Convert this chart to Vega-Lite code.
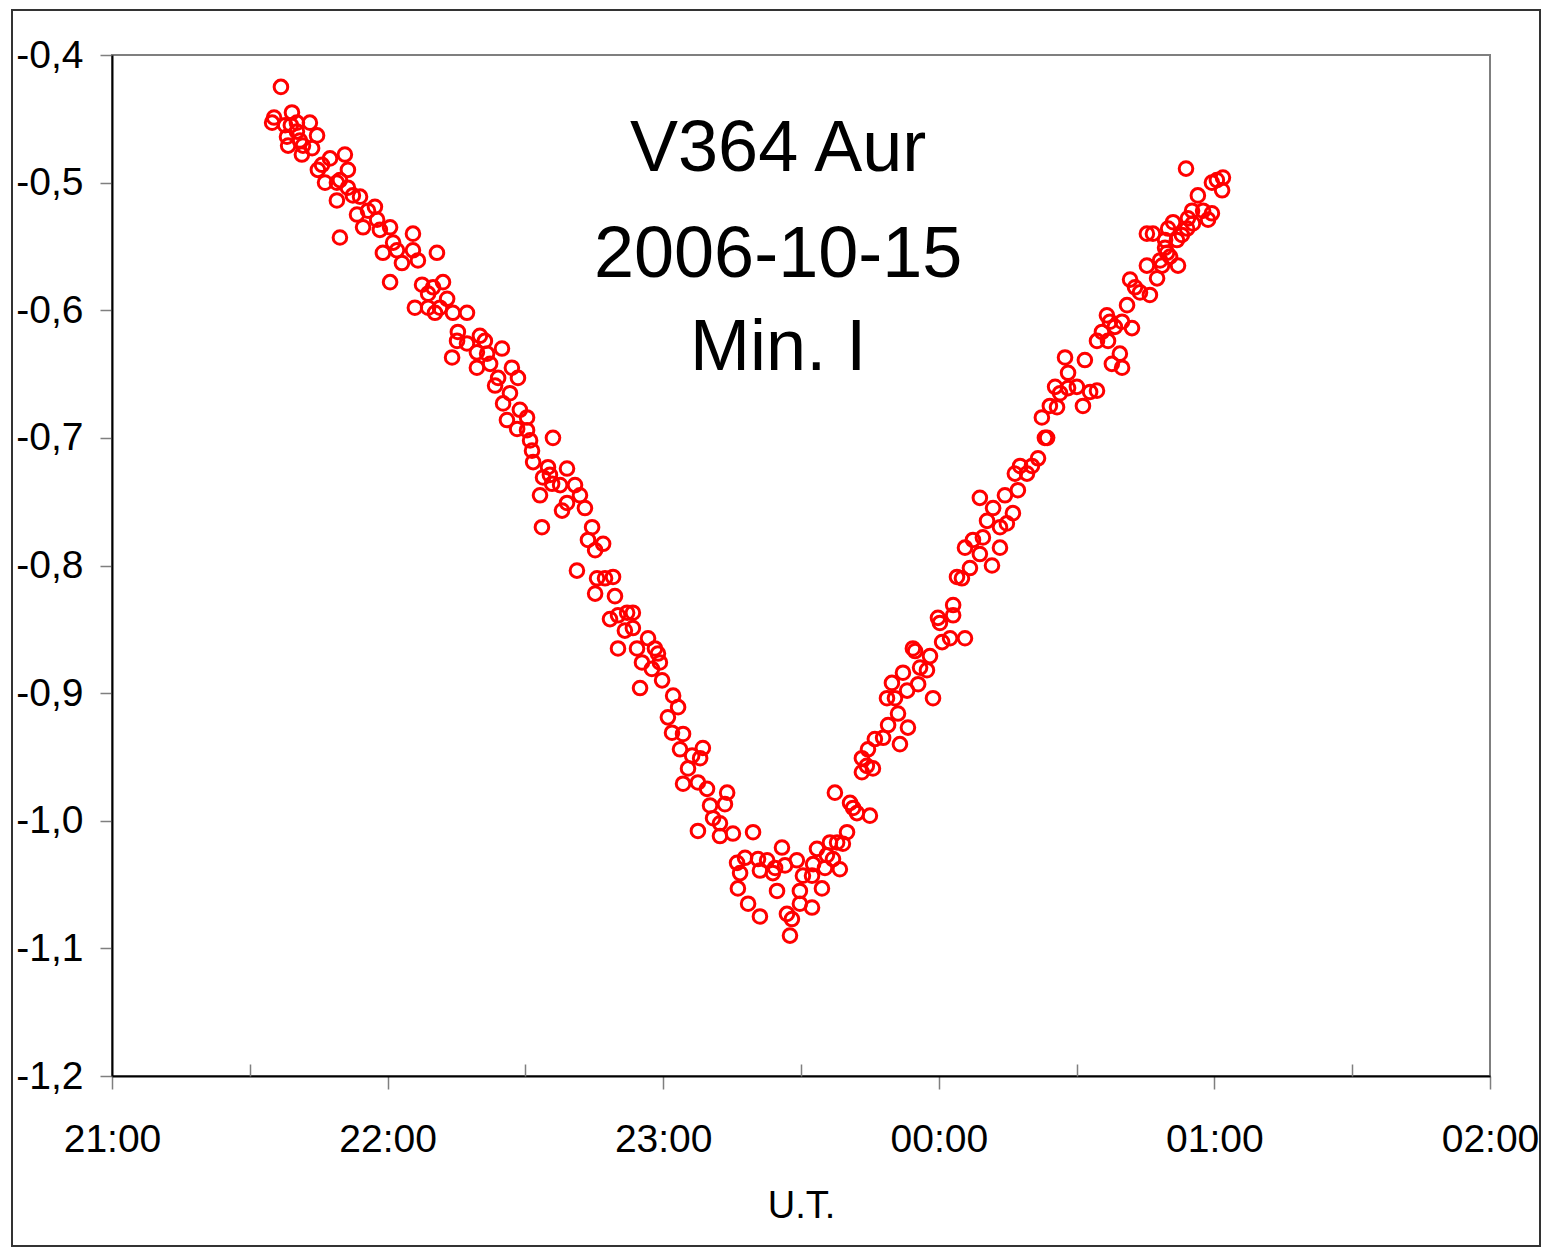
{
  "$schema": "https://vega.github.io/schema/vega-lite/v6.json",
  "width": 1378,
  "height": 1021,
  "autosize": {"type": "none"},
  "padding": {"left": 112, "top": 55, "right": 51, "bottom": 171},
  "background": "white",
  "config": {
    "view": {"stroke": "#7f7f7f", "strokeWidth": 2},
    "font": "Liberation Sans",
    "axis": {
      "grid": false,
      "domainColor": "#000000",
      "domainWidth": 2,
      "tickColor": "#7f7f7f",
      "tickWidth": 1.5,
      "labelColor": "#000000",
      "labelFontSize": 39,
      "labelFont": "Liberation Sans",
      "titleColor": "#000000",
      "titleFont": "Liberation Sans",
      "titleFontWeight": "normal",
      "titleFontSize": 38,
      "labelOverlap": false,
      "labelFlush": false
    }
  },
  "resolve": {"axis": {"x": "independent"}},
  "layer": [
    {
      "data": {"values": [{}]},
      "mark": {"type": "rect", "fillOpacity": 0, "stroke": "#333333", "strokeWidth": 2},
      "encoding": {
        "x": {"value": -100},
        "x2": {"value": 1428},
        "y": {"value": -45},
        "y2": {"value": 1191}
      }
    },
    {
      "data": {"values": [
        {"t":21.581,"m":-0.453},{"t":21.588,"m":-0.449},{"t":21.613,"m":-0.425},{"t":21.628,"m":-0.455},
        {"t":21.635,"m":-0.464},{"t":21.639,"m":-0.471},{"t":21.649,"m":-0.455},{"t":21.653,"m":-0.445},
        {"t":21.671,"m":-0.453},{"t":21.671,"m":-0.460},{"t":21.682,"m":-0.467},{"t":21.689,"m":-0.478},
        {"t":21.693,"m":-0.471},{"t":21.718,"m":-0.453},{"t":21.726,"m":-0.473},{"t":21.744,"m":-0.463},
        {"t":21.747,"m":-0.490},{"t":21.762,"m":-0.486},{"t":21.773,"m":-0.500},{"t":21.791,"m":-0.481},
        {"t":21.816,"m":-0.500},{"t":21.816,"m":-0.514},{"t":21.827,"m":-0.543},{"t":21.827,"m":-0.498},
        {"t":21.845,"m":-0.478},{"t":21.856,"m":-0.490},{"t":21.856,"m":-0.504},{"t":21.874,"m":-0.510},
        {"t":21.889,"m":-0.525},{"t":21.900,"m":-0.511},{"t":21.911,"m":-0.535},{"t":21.929,"m":-0.522},
        {"t":21.954,"m":-0.519},{"t":21.962,"m":-0.529},{"t":21.972,"m":-0.537},{"t":21.983,"m":-0.555},
        {"t":22.009,"m":-0.535},{"t":22.009,"m":-0.578},{"t":22.020,"m":-0.547},{"t":22.034,"m":-0.553},
        {"t":22.052,"m":-0.563},{"t":22.092,"m":-0.540},{"t":22.092,"m":-0.553},{"t":22.099,"m":-0.598},
        {"t":22.110,"m":-0.561},{"t":22.125,"m":-0.580},{"t":22.147,"m":-0.598},{"t":22.147,"m":-0.587},
        {"t":22.165,"m":-0.582},{"t":22.172,"m":-0.602},{"t":22.179,"m":-0.555},{"t":22.190,"m":-0.598},
        {"t":22.201,"m":-0.578},{"t":22.216,"m":-0.591},{"t":22.234,"m":-0.637},{"t":22.237,"m":-0.602},
        {"t":22.252,"m":-0.624},{"t":22.255,"m":-0.617},{"t":22.288,"m":-0.602},{"t":22.288,"m":-0.626},
        {"t":22.324,"m":-0.633},{"t":22.324,"m":-0.645},{"t":22.335,"m":-0.620},{"t":22.353,"m":-0.624},
        {"t":22.361,"m":-0.634},{"t":22.372,"m":-0.642},{"t":22.390,"m":-0.659},{"t":22.401,"m":-0.653},
        {"t":22.415,"m":-0.630},{"t":22.419,"m":-0.673},{"t":22.433,"m":-0.686},{"t":22.444,"m":-0.665},
        {"t":22.451,"m":-0.645},{"t":22.470,"m":-0.693},{"t":22.473,"m":-0.653},{"t":22.480,"m":-0.678},
        {"t":22.506,"m":-0.684},{"t":22.506,"m":-0.694},{"t":22.517,"m":-0.702},{"t":22.524,"m":-0.710},
        {"t":22.528,"m":-0.719},{"t":22.553,"m":-0.745},{"t":22.560,"m":-0.770},{"t":22.564,"m":-0.731},
        {"t":22.582,"m":-0.723},{"t":22.589,"m":-0.729},{"t":22.597,"m":-0.736},{"t":22.600,"m":-0.700},
        {"t":22.626,"m":-0.737},{"t":22.633,"m":-0.757},{"t":22.651,"m":-0.724},{"t":22.651,"m":-0.751},
        {"t":22.680,"m":-0.737},{"t":22.687,"m":-0.804},{"t":22.698,"m":-0.745},{"t":22.716,"m":-0.755},
        {"t":22.727,"m":-0.780},{"t":22.742,"m":-0.770},{"t":22.753,"m":-0.788},{"t":22.753,"m":-0.822},
        {"t":22.760,"m":-0.810},{"t":22.782,"m":-0.783},{"t":22.789,"m":-0.810},{"t":22.807,"m":-0.842},
        {"t":22.818,"m":-0.809},{"t":22.825,"m":-0.824},{"t":22.836,"m":-0.839},{"t":22.836,"m":-0.865},
        {"t":22.861,"m":-0.851},{"t":22.869,"m":-0.837},{"t":22.890,"m":-0.837},{"t":22.890,"m":-0.849},
        {"t":22.905,"m":-0.865},{"t":22.916,"m":-0.896},{"t":22.923,"m":-0.876},{"t":22.945,"m":-0.857},
        {"t":22.959,"m":-0.881},{"t":22.970,"m":-0.865},{"t":22.981,"m":-0.869},{"t":22.988,"m":-0.876},
        {"t":22.996,"m":-0.890},{"t":23.017,"m":-0.919},{"t":23.032,"m":-0.931},{"t":23.036,"m":-0.902},
        {"t":23.054,"m":-0.911},{"t":23.061,"m":-0.944},{"t":23.072,"m":-0.932},{"t":23.072,"m":-0.971},
        {"t":23.090,"m":-0.959},{"t":23.105,"m":-0.949},{"t":23.126,"m":-0.970},{"t":23.126,"m":-1.008},
        {"t":23.134,"m":-0.951},{"t":23.144,"m":-0.943},{"t":23.159,"m":-0.975},{"t":23.170,"m":-0.988},
        {"t":23.181,"m":-0.998},{"t":23.206,"m":-1.002},{"t":23.206,"m":-1.012},{"t":23.224,"m":-0.987},
        {"t":23.232,"m":-0.978},{"t":23.253,"m":-1.010},{"t":23.268,"m":-1.033},{"t":23.271,"m":-1.053},
        {"t":23.279,"m":-1.041},{"t":23.297,"m":-1.029},{"t":23.308,"m":-1.065},{"t":23.326,"m":-1.009},
        {"t":23.344,"m":-1.030},{"t":23.351,"m":-1.039},{"t":23.351,"m":-1.075},{"t":23.377,"m":-1.031},
        {"t":23.398,"m":-1.041},{"t":23.406,"m":-1.037},{"t":23.413,"m":-1.055},{"t":23.431,"m":-1.021},
        {"t":23.442,"m":-1.035},{"t":23.449,"m":-1.073},{"t":23.460,"m":-1.090},{"t":23.467,"m":-1.077},
        {"t":23.485,"m":-1.031},{"t":23.496,"m":-1.055},{"t":23.496,"m":-1.065},{"t":23.507,"m":-1.043},
        {"t":23.540,"m":-1.043},{"t":23.540,"m":-1.068},{"t":23.544,"m":-1.034},{"t":23.558,"m":-1.022},
        {"t":23.576,"m":-1.053},{"t":23.587,"m":-1.037},{"t":23.594,"m":-1.027},{"t":23.605,"m":-1.017},
        {"t":23.616,"m":-1.030},{"t":23.623,"m":-0.978},{"t":23.631,"m":-1.017},{"t":23.641,"m":-1.038},
        {"t":23.652,"m":-1.018},{"t":23.667,"m":-1.009},{"t":23.678,"m":-0.986},{"t":23.689,"m":-0.990},
        {"t":23.703,"m":-0.994},{"t":23.721,"m":-0.951},{"t":23.721,"m":-0.962},{"t":23.739,"m":-0.957},
        {"t":23.743,"m":-0.944},{"t":23.750,"m":-0.996},{"t":23.761,"m":-0.959},{"t":23.768,"m":-0.936},
        {"t":23.798,"m":-0.935},{"t":23.812,"m":-0.904},{"t":23.816,"m":-0.925},{"t":23.830,"m":-0.892},
        {"t":23.841,"m":-0.904},{"t":23.852,"m":-0.916},{"t":23.859,"m":-0.940},{"t":23.870,"m":-0.884},
        {"t":23.885,"m":-0.898},{"t":23.888,"m":-0.927},{"t":23.906,"m":-0.865},{"t":23.914,"m":-0.867},
        {"t":23.925,"m":-0.893},{"t":23.932,"m":-0.880},{"t":23.957,"m":-0.882},{"t":23.968,"m":-0.871},
        {"t":23.979,"m":-0.904},{"t":23.997,"m":-0.841},{"t":24.004,"m":-0.845},{"t":24.012,"m":-0.860},
        {"t":24.041,"m":-0.857},{"t":24.052,"m":-0.831},{"t":24.052,"m":-0.839},{"t":24.066,"m":-0.809},
        {"t":24.084,"m":-0.810},{"t":24.095,"m":-0.857},{"t":24.095,"m":-0.786},{"t":24.113,"m":-0.802},
        {"t":24.124,"m":-0.780},{"t":24.149,"m":-0.791},{"t":24.149,"m":-0.747},{"t":24.160,"m":-0.778},
        {"t":24.175,"m":-0.765},{"t":24.193,"m":-0.800},{"t":24.197,"m":-0.755},{"t":24.222,"m":-0.786},
        {"t":24.222,"m":-0.770},{"t":24.240,"m":-0.745},{"t":24.247,"m":-0.767},{"t":24.269,"m":-0.759},
        {"t":24.276,"m":-0.728},{"t":24.287,"m":-0.741},{"t":24.295,"m":-0.722},{"t":24.320,"m":-0.728},
        {"t":24.338,"m":-0.722},{"t":24.360,"m":-0.716},{"t":24.374,"m":-0.684},{"t":24.385,"m":-0.700},
        {"t":24.393,"m":-0.700},{"t":24.403,"m":-0.675},{"t":24.422,"m":-0.660},{"t":24.429,"m":-0.676},
        {"t":24.440,"m":-0.665},{"t":24.458,"m":-0.637},{"t":24.469,"m":-0.661},{"t":24.469,"m":-0.649},
        {"t":24.501,"m":-0.660},{"t":24.523,"m":-0.675},{"t":24.530,"m":-0.639},{"t":24.549,"m":-0.664},
        {"t":24.574,"m":-0.663},{"t":24.574,"m":-0.624},{"t":24.592,"m":-0.617},{"t":24.610,"m":-0.604},
        {"t":24.614,"m":-0.624},{"t":24.621,"m":-0.609},{"t":24.628,"m":-0.642},{"t":24.639,"m":-0.613},
        {"t":24.657,"m":-0.634},{"t":24.665,"m":-0.609},{"t":24.665,"m":-0.645},{"t":24.683,"m":-0.596},
        {"t":24.694,"m":-0.576},{"t":24.701,"m":-0.614},{"t":24.712,"m":-0.582},{"t":24.730,"m":-0.586},
        {"t":24.755,"m":-0.540},{"t":24.755,"m":-0.565},{"t":24.766,"m":-0.588},{"t":24.777,"m":-0.540},
        {"t":24.792,"m":-0.575},{"t":24.803,"m":-0.561},{"t":24.810,"m":-0.565},{"t":24.821,"m":-0.545},
        {"t":24.821,"m":-0.551},{"t":24.828,"m":-0.555},{"t":24.832,"m":-0.536},{"t":24.839,"m":-0.558},
        {"t":24.850,"m":-0.531},{"t":24.864,"m":-0.545},{"t":24.868,"m":-0.565},{"t":24.882,"m":-0.541},
        {"t":24.897,"m":-0.489},{"t":24.901,"m":-0.536},{"t":24.904,"m":-0.528},{"t":24.919,"m":-0.522},
        {"t":24.922,"m":-0.532},{"t":24.940,"m":-0.510},{"t":24.959,"m":-0.522},{"t":24.977,"m":-0.529},
        {"t":24.991,"m":-0.500},{"t":24.991,"m":-0.524},{"t":25.009,"m":-0.498},{"t":25.028,"m":-0.506},
        {"t":25.031,"m":-0.496}
      ]},
      "mark": {"type": "point", "shape": "circle", "filled": false, "stroke": "#ff0000", "strokeWidth": 3, "size": 185, "opacity": 1},
      "encoding": {
        "x": {
          "field": "t", "type": "quantitative",
          "scale": {"domain": [21, 26], "nice": false, "zero": false},
          "axis": {
            "orient": "bottom",
            "values": [21, 22, 23, 24, 25, 26],
            "labelExpr": "(datum.value % 24 < 10 ? '0' : '') + (datum.value % 24) + ':00'",
            "tickSize": 13,
            "labelPadding": 31,
            "title": "U.T.",
            "titlePadding": 28
          }
        },
        "y": {
          "field": "m", "type": "quantitative",
          "scale": {"domain": [-1.2, -0.4], "nice": false, "zero": false},
          "axis": {
            "values": [-1.2, -1.1, -1.0, -0.9, -0.8, -0.7, -0.6, -0.5, -0.4],
            "labelExpr": "(datum.value < 0 ? '-' : '') + replace(format(abs(datum.value), '.1f'), '.', ',')",
            "tickSize": 12,
            "labelPadding": 17,
            "title": null
          }
        }
      }
    },
    {
      "data": {"values": [{}]},
      "mark": {"type": "text", "text": "V364 Aur", "fontSize": 72, "font": "Liberation Sans", "align": "center", "baseline": "alphabetic", "color": "#000000"},
      "encoding": {
        "x": {"datum": 23.417, "type": "quantitative", "axis": null},
        "y": {"datum": -0.491, "type": "quantitative"}
      }
    },
    {
      "data": {"values": [{}]},
      "mark": {"type": "text", "text": "2006-10-15", "fontSize": 72, "font": "Liberation Sans", "align": "center", "baseline": "alphabetic", "color": "#000000"},
      "encoding": {
        "x": {"datum": 23.417, "type": "quantitative",
          "axis": {"orient": "bottom", "values": [21.5, 22.5, 23.5, 24.5, 25.5], "tickSize": -12, "labels": false, "domain": false, "title": null}},
        "y": {"datum": -0.574, "type": "quantitative"}
      }
    },
    {
      "data": {"values": [{}]},
      "mark": {"type": "text", "text": "Min. I", "fontSize": 72, "font": "Liberation Sans", "align": "center", "baseline": "alphabetic", "color": "#000000"},
      "encoding": {
        "x": {"datum": 23.417, "type": "quantitative", "axis": null},
        "y": {"datum": -0.647, "type": "quantitative"}
      }
    }
  ]
}
